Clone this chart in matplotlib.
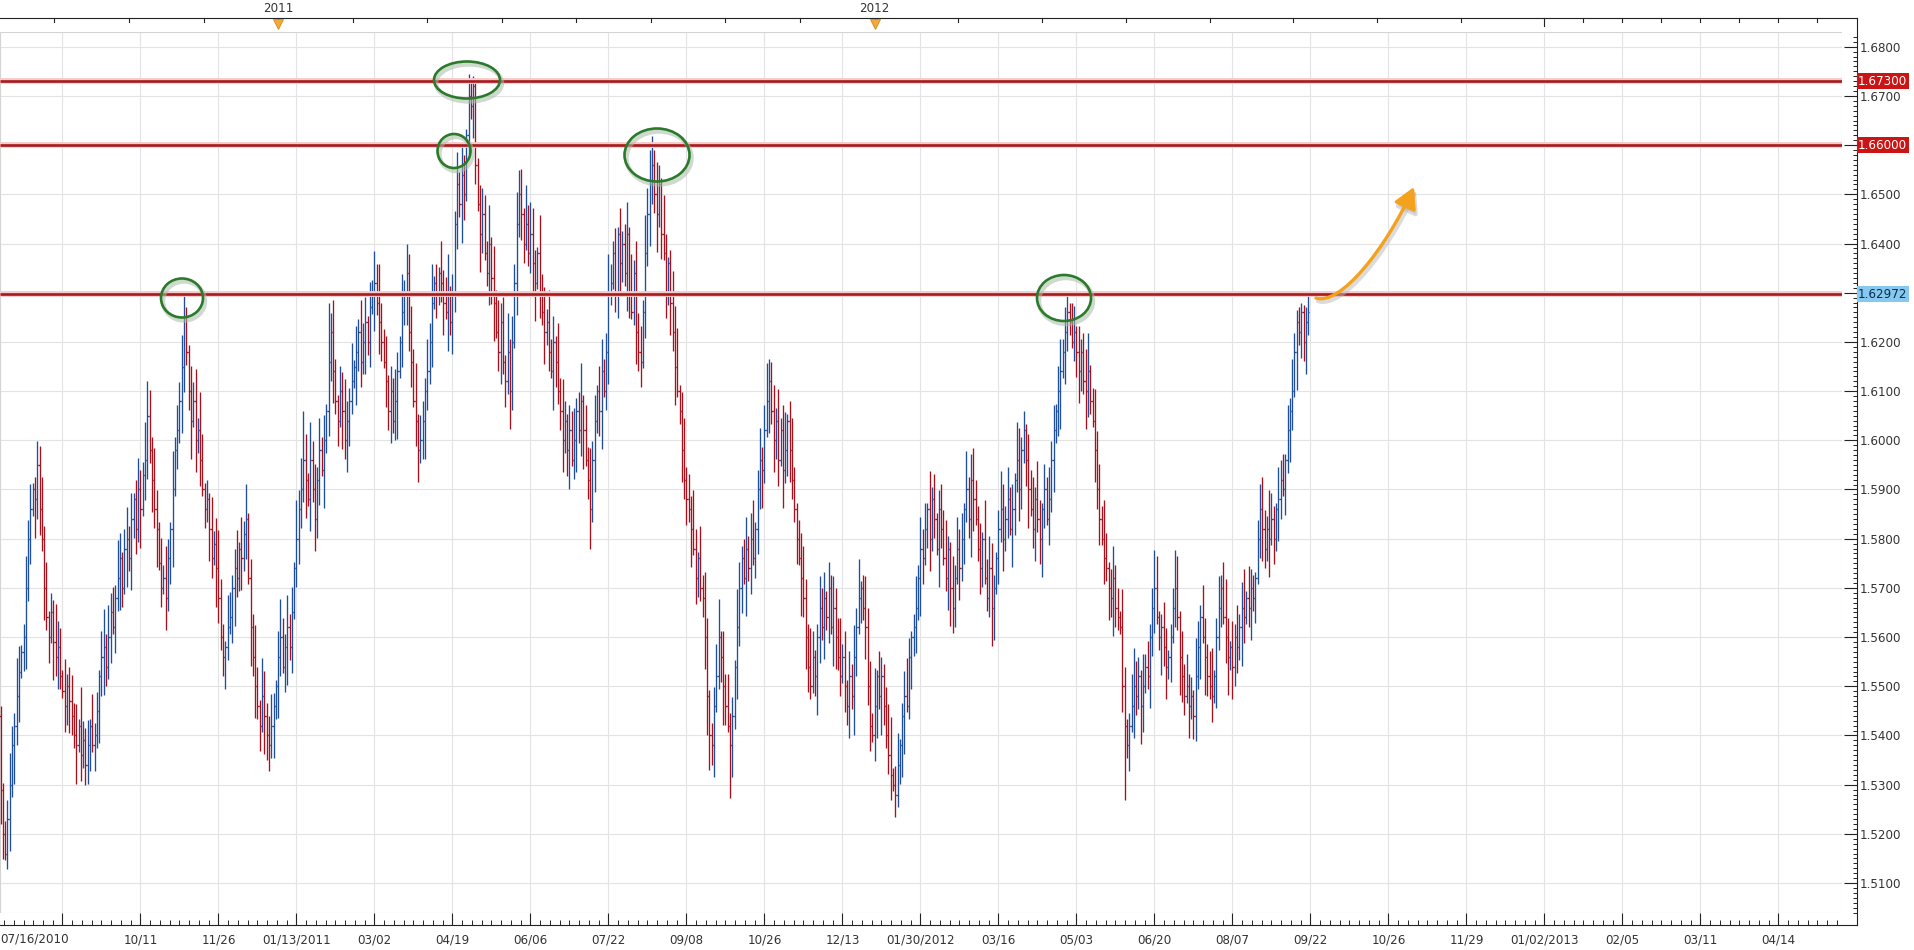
import numpy as np
import matplotlib
matplotlib.use("Agg")
import matplotlib.pyplot as plt
import matplotlib.transforms as mtransforms
from matplotlib.collections import LineCollection
from matplotlib.patches import Ellipse, FancyArrowPatch, Rectangle
from matplotlib.path import Path
from matplotlib.ticker import FixedLocator, MultipleLocator, FuncFormatter

plt.rcParams['font.family'] = ['DejaVu Sans']

# ---------------- data (GBP/USD daily, pips above 1.0000) ----------------
first_date_label = "07/16/2010"
first_open = 5440
closes = [
    5290, 5200, 5160, 5230, 5300, 5380, 5420, 5480, 5530, 5570,
    5600, 5700, 5800, 5860, 5900, 5880, 5950, 5860, 5800, 5700,
    5640, 5600, 5650, 5590, 5560, 5580, 5520, 5490, 5460, 5500,
    5470, 5440, 5400, 5380, 5420, 5360, 5390, 5340, 5380, 5420,
    5380, 5400, 5450, 5520, 5560, 5580, 5540, 5600, 5650, 5620,
    5680, 5720, 5760, 5700, 5780, 5800, 5760, 5840, 5880, 5820,
    5900, 5860, 5930, 5960, 6050, 5980, 5920, 5860, 5820, 5750,
    5700, 5720, 5680, 5760, 5820, 5900, 5980, 6020, 6080, 6150,
    6250, 6180, 6100, 6040, 6080, 6000, 6020, 5960, 5900, 5860,
    5880, 5820, 5760, 5790, 5740, 5680, 5600, 5560, 5580, 5620,
    5640, 5700, 5740, 5720, 5780, 5760, 5810, 5840, 5720, 5620,
    5560, 5500, 5460, 5420, 5480, 5440, 5400, 5380, 5420, 5460,
    5500, 5560, 5600, 5540, 5580, 5620, 5580, 5650, 5740, 5800,
    5860, 5900, 5960, 5920, 5880, 5960, 5900, 5840, 5920, 5980,
    5940, 6000, 6060, 6160, 6220, 6140, 6080, 6040, 6100, 6060,
    6000, 6040, 6080, 6120, 6150, 6180, 6220, 6160, 6200, 6240,
    6200, 6270, 6300, 6320, 6280, 6240, 6200, 6160, 6120, 6060,
    6100, 6040, 6080, 6140, 6200, 6260, 6300, 6340, 6220, 6160,
    6080, 6040, 5980, 6000, 6040, 6100, 6140, 6200, 6280, 6320,
    6300, 6340, 6320, 6280, 6260, 6300, 6240, 6300, 6440, 6520,
    6480, 6540, 6500, 6620, 6700, 6680, 6720, 6560, 6480, 6420,
    6460, 6380, 6340, 6400, 6330, 6280, 6220, 6180, 6240, 6160,
    6120, 6180, 6100, 6200, 6320, 6440, 6500, 6460, 6400, 6440,
    6380, 6420, 6360, 6320, 6380, 6300, 6260, 6220, 6240, 6180,
    6140, 6200, 6160, 6100, 6060, 6000, 6040, 5980, 6020, 5960,
    6000, 6060, 6020, 6080, 6020, 5960, 5920, 5860, 5960, 6040,
    6100, 6060, 6140, 6100, 6180, 6300, 6320, 6380, 6300, 6420,
    6360, 6400, 6340, 6420, 6300, 6260, 6340, 6220, 6180, 6160,
    6260, 6380, 6460, 6520, 6560, 6500, 6460, 6520, 6420, 6380,
    6300, 6360, 6280, 6220, 6150, 6100, 6060, 5980, 5920, 5880,
    5860, 5820, 5780, 5720, 5760, 5700, 5680, 5600, 5480, 5400,
    5380, 5460, 5520, 5600, 5560, 5500, 5460, 5420, 5380, 5440,
    5540, 5620, 5700, 5760, 5720, 5780, 5740, 5800, 5760, 5820,
    5900, 5960, 5940, 6020, 6080, 6120, 6060, 6000, 6040, 5960,
    6020, 5940, 5980, 6040, 5980, 5920, 5860, 5800, 5760, 5720,
    5680, 5600, 5540, 5500, 5560, 5520, 5600, 5660, 5620, 5680,
    5640, 5700, 5620, 5660, 5600, 5560, 5520, 5560, 5500, 5460,
    5520, 5480, 5560, 5620, 5680, 5700, 5660, 5620, 5500, 5420,
    5400, 5460, 5520, 5480, 5520, 5460, 5400, 5360, 5320, 5300,
    5280, 5340, 5380, 5440, 5480, 5460, 5560, 5600, 5620, 5660,
    5720, 5780, 5760, 5820, 5860, 5800, 5880, 5840, 5780, 5860,
    5820, 5760, 5720, 5780, 5700, 5660, 5720, 5780, 5740, 5800,
    5860, 5900, 5840, 5920, 5880, 5840, 5780, 5740, 5800, 5720,
    5680, 5740, 5660, 5700, 5760, 5820, 5860, 5800, 5840, 5880,
    5820, 5860, 5920, 5960, 5900, 5980, 6020, 5960, 5900, 5860,
    5820, 5880, 5840, 5800, 5860, 5900, 5840, 5880, 5960, 6020,
    6060, 6100, 6140, 6180, 6220, 6260, 6240, 6200, 6220, 6180,
    6140, 6180, 6120, 6100, 6140, 6080, 6040, 5980, 5900, 5840,
    5800, 5760, 5740, 5700, 5680, 5720, 5660, 5640, 5620, 5500,
    5420, 5380, 5420, 5460, 5500, 5480, 5520, 5460, 5500, 5540,
    5520, 5600, 5660, 5700, 5640, 5600, 5620, 5580, 5540, 5560,
    5600, 5660, 5700, 5640, 5560, 5520, 5480, 5500, 5460, 5480,
    5440, 5520, 5580, 5640, 5600, 5560, 5520, 5500, 5480, 5520,
    5600, 5660, 5700, 5640, 5600, 5560, 5580, 5540, 5600, 5580,
    5620, 5660, 5640, 5680, 5660, 5700, 5680, 5720, 5800, 5860,
    5820, 5780, 5820, 5800, 5840, 5800, 5860, 5880, 5920, 5900,
    5960, 6020, 6060, 6100, 6180, 6240, 6220, 6260, 6200, 6240,
    6260,
]
# wick sizes above / below the bar body, in units of 13 pips (one digit per bar)
wick_unit = 0.0013
up_wicks = """
4123532641 2534126352 4132643152 3425163241 5231462534 2641352413 5326142531 4253162435 2614352641 3152463215
4236152413 2531642352 1463252416 3524163425 2416352143 5326142534 1425363241 4253162534 2614325361 3152461325
2531462413 4326152534 1624352416 3542163425 2416253143 5236142534 1452363241 4235162534 2641325316 3125461352
4263152431 2356142523 1642352461 3524613425 2461352134 5326412534 1425336241 4253612534 2614323561 3512463125
2534162413 4362152534 1624532416 3542136425 2416523143 5263142534 1452632341 4235612534 2641352316 3125643152
4236512431 2365142523 1642532461 3524631425 2461532134 5326421534 1425363214 3
"""
down_wicks = """
2413526341 3524163425 2416352143 5326142534 1425363241 4253162534 2614325361 3152461325 4236152413 2531642352
1463252416 3524163425 2531462413 4326152534 1624352416 3542163425 2416253143 5236142534 1452363241 4235162534
2641325316 3125461352 4263152431 2356142523 1642352461 3524613425 2461352134 5326412534 1425336241 4253612534
2614323561 3512463125 2534162413 4362152534 1624532416 3542136425 2416523143 5263142534 1452632341 4235612534
2641352316 3125643152 4236512431 2365142523 1642532461 3524631425 2461532134 5326421534 1425363214 3241532641
2534126352 4132643152 3425163241 5231462534 2641352413 5326142531 4253162435 2
"""
high_marks = {0: 5460, 16: 5998, 64: 6120, 80: 6298, 81: 6270, 107: 5912, 132: 6060,
              143: 6280, 177: 6400, 204: 6745, 205: 6728, 206: 6740, 207: 6730,
              226: 6550, 283: 6590, 284: 6618, 285: 6590, 335: 6165,
              464: 6270, 465: 6301, 466: 6280, 565: 6265, 566: 6270, 567: 6280,
              568: 6275, 569: 6270, 570: 6297}
low_marks = {0: 5220, 3: 5128, 37: 5300, 116: 5350, 257: 5780, 309: 5330,
             318: 5272, 390: 5234, 490: 5268, 520: 5393}

grid_labels = ["", "10/11", "11/26", "01/13/2011", "03/02", "04/19", "06/06", "07/22",
               "09/08", "10/26", "12/13", "01/30/2012", "03/16", "05/03", "06/20",
               "08/07", "09/22", "10/26", "11/29", "01/02/2013", "02/05", "03/11", "04/14"]
year_labels = ["2011", "2012"]
year_bars = [121, 381]
top_ticks = [23.3, 56, 88.7, 121, 153.6, 186, 218.6, 251, 283.5, 316, 348.5, 381,
             417.5, 454, 490.5, 527, 563.5, 600, 636.5, 673, 690, 707, 724, 741,
             758, 775, 792]
levels = [1.67300, 1.66000, 1.62972]
level_texts = ["1.67300", "1.66000", "1.62972"]
level_box_colors = ["#cc1414", "#cc1414", "#86c9f0"]
level_text_colors = ["white", "white", "#0b2a4a"]

# annotation geometry in reference pixels (x, y from top, width, height)
ellipses_px = [(182, 298, 42, 39), (467, 80, 66, 37), (454, 151, 33, 34),
               (657, 155, 65, 53), (1064, 298, 54, 46)]
arrow_px = [(1316, 298), (1340, 306), (1385, 250), (1414, 187)]

# ---------------- figure ----------------
W, H = 1914, 950
fig = plt.figure(figsize=(W / 100, H / 100), dpi=100)
fig.patch.set_facecolor("white")
ax = fig.add_axes([0, 37 / H, 1842 / W, 881 / H])
x0, x1 = -0.244, 802.7
y0, y1 = 1.50392, 1.68299
ax.set_xlim(x0, x1)
ax.set_ylim(y0, y1)
ppx = 1842 / (x1 - x0)
ppy = 881 / (y1 - y0)

def px2data(x, y):
    return ax.transData.inverted().transform((x, H - y))

BLUE = "#1f4f9c"
RED = "#a8111c"
FS = 8.6

n = len(closes)
c = 1 + np.array(closes) / 1e4
o = np.empty(n)
o[0] = 1 + first_open / 1e4
o[1:] = c[:-1]
uw = np.array([int(ch) for ch in "".join(up_wicks.split())])[:n] * wick_unit
dw = np.array([int(ch) for ch in "".join(down_wicks.split())])[:n] * wick_unit
hi = np.maximum(o, c) + uw
lo = np.minimum(o, c) - dw
for i, v in high_marks.items():
    hi[i] = max(1 + v / 1e4, max(o[i], c[i]))
for i, v in low_marks.items():
    lo[i] = min(1 + v / 1e4, min(o[i], c[i]))

segs, cols = [], []
tk = 0.5
for i in range(n):
    col = BLUE if c[i] >= o[i] else RED
    segs += [[(i, lo[i]), (i, hi[i])], [(i - tk, o[i]), (i, o[i])], [(i, c[i]), (i + tk, c[i])]]
    cols += [col] * 3
ax.add_collection(LineCollection(segs, colors=cols, linewidths=0.95, zorder=3))

# grid & frame
grid_bars = [27 + 34 * k for k in range(len(grid_labels))]
ax.set_xticks(grid_bars)
ax.set_xticklabels(grid_labels)
ax.xaxis.set_minor_locator(FixedLocator(np.arange(1.5, 803, 4.25)))
ax.yaxis.tick_right()
ax.set_yticks(np.round(np.arange(1.51, 1.6801, 0.01), 2))
ax.yaxis.set_minor_locator(MultipleLocator(0.001))
ax.yaxis.set_major_formatter(FuncFormatter(
    lambda v, p: "" if round(v, 2) in (1.66, 1.63) else f"{v:.4f}"))
ax.grid(which="major", color="#e3e3e3", lw=0.8)
ax.set_axisbelow(True)
ax.add_patch(Rectangle((0, 0), 1, 1, transform=ax.transAxes, fill=False,
                       ec="#d4d4d4", lw=0.8, zorder=1))

for s in ["left", "top"]:
    ax.spines[s].set_visible(False)
ax.spines["right"].set_position(("outward", 15 * 0.72))
ax.spines["bottom"].set_position(("outward", 12 * 0.72))
ax.spines["right"].set_bounds(1.50148, 1.68583)
ax.spines["bottom"].set_bounds(x0, 809.3)
for s in ["right", "bottom"]:
    ax.spines[s].set_color("#222222")
    ax.spines[s].set_linewidth(0.8)

ax.tick_params(axis="x", which="major", direction="in", length=12 * 0.72, width=0.8,
               color="#222222", labelsize=FS, labelcolor="#333333", pad=6.0)
ax.tick_params(axis="x", which="minor", direction="in", length=5 * 0.72, width=0.7,
               color="#222222")
ax.tick_params(axis="y", which="major", direction="in", length=13 * 0.72, width=0.8,
               color="#222222", labelsize=FS, labelcolor="#333333", pad=2.0)
ax.tick_params(axis="y", which="minor", direction="in", length=4.5 * 0.72, width=0.7,
               color="#222222")

trans_top = mtransforms.blended_transform_factory(ax.transData, ax.transAxes)
ax.text(x0, -19 / 881, first_date_label, ha="left", va="top", fontsize=FS,
        color="#333333", transform=trans_top, clip_on=False)

# top time axis
yt = 1 + 14 / 881
ax.plot([x0, 809.3], [yt, yt], transform=trans_top, color="#222222", lw=0.8, clip_on=False)
for b in top_ticks:
    L = 8 if b in year_bars or b == 673 else 4
    ax.plot([b, b], [yt, yt - L / 881], transform=trans_top, color="#222222",
            lw=0.8, clip_on=False)
for b, lab in zip(year_bars, year_labels):
    ax.plot([b], [1 + (32 - 23.5) / 881], marker="v", ms=7, color="#f2a83a",
            mec="#d08a1a", mew=0.6, transform=trans_top, clip_on=False)
    ax.text(b, 1 + (32 - 8) / 881, lab, ha="center", va="center", fontsize=FS,
            color="#333333", transform=trans_top, clip_on=False)

# horizontal levels
trans_lvl = mtransforms.blended_transform_factory(ax.transAxes, ax.transData)
for lv, txt, bc, tc in zip(levels, level_texts, level_box_colors, level_text_colors):
    ax.axhline(lv, color="#f5caca", lw=4.2, zorder=4, solid_capstyle="butt")
    ax.axhline(lv, color="#a8191b", lw=1.9, zorder=5, solid_capstyle="butt")
    ax.text(1858 / 1842, lv, txt, transform=trans_lvl, ha="left", va="center",
            fontsize=FS, color=tc, zorder=10, clip_on=False,
            bbox=dict(boxstyle="square,pad=0.12", fc=bc, ec="none"))

# green ellipses
for cx, cy, w, h in ellipses_px:
    dx, dy = px2data(cx, cy)
    sx, sy = px2data(cx + 2, cy + 3)
    ax.add_patch(Ellipse((sx, sy), w / ppx, h / ppy, fill=False, ec="#a9bca9",
                         lw=3.2, alpha=0.55, zorder=6))
    ax.add_patch(Ellipse((dx, dy), w / ppx, h / ppy, fill=False, ec="#2b7a2b",
                         lw=1.9, zorder=7))

# orange arrow
codes = [Path.MOVETO, Path.CURVE4, Path.CURVE4, Path.CURVE4]
shadow = [px2data(x + 2, y + 3) for x, y in arrow_px]
main = [px2data(x, y) for x, y in arrow_px]
ax.add_patch(FancyArrowPatch(path=Path(shadow, codes),
                             arrowstyle="-|>,head_length=0.9,head_width=0.5",
                             mutation_scale=14, color="#b8b8b8", alpha=0.5,
                             lw=3.2, zorder=8))
ax.add_patch(FancyArrowPatch(path=Path(main, codes),
                             arrowstyle="-|>,head_length=0.9,head_width=0.5",
                             mutation_scale=14, color="#f4a21e", lw=2.4, zorder=9))

fig.savefig("out.png", dpi=100)
